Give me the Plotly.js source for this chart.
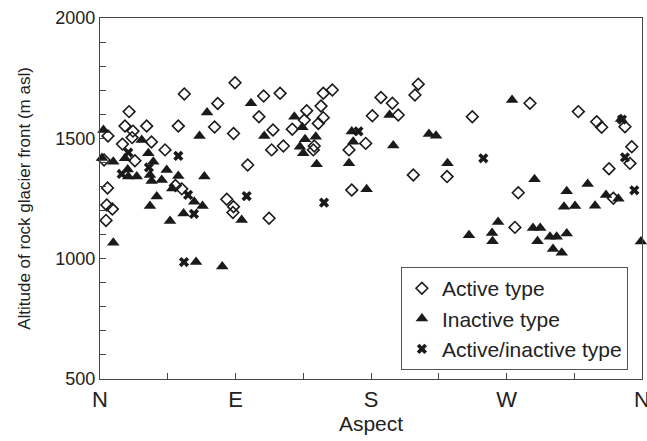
<!DOCTYPE html>
<html>
<head>
<meta charset="utf-8">
<script src="https://cdn.plot.ly/plotly-3.0.1.min.js"></script>
<style>html,body{margin:0;padding:0;background:#fff}#chart{width:647px;height:441px}</style>
</head>
<body>
<div id="chart"></div>
<script>
// Aspect in degrees (0 = N, 90 = E, 180 = S, 270 = W, 360 = N), altitude in m asl
var activeAspect = [2.7,4.5,8.2,4.0,5.0,5.3,14.9,16.6,19.3,21.9,21.3,23.2,31.0,34.2,43.2,50.1,54.3,52.0,56.0,76.1,78.2,89.7,84.2,88.7,88.3,88.7,105.6,108.7,114.9,114.0,98.1,112.3,119.6,121.8,127.7,135.7,137.3,145.0,146.8,148.3,148.3,154.3,142.3,141.7,165.4,176.5,167.2,180.9,186.6,194.2,198.1,209.2,211.4,208.1,230.5,247.3,285.6,277.8,275.6,317.7,329.9,333.2,348.7,353.2,352.0,338.1,341.0];
var activeAlt = [1410,1223,1206,1159,1294,1510,1476,1551,1611,1530,1503,1407,1551,1485,1452,1304,1290,1551,1684,1547,1645,1731,1247,1216,1192,1520,1590,1676,1535,1452,1389,1168,1687,1468,1538,1576,1615,1562,1634,1586,1687,1701,1468,1452,1452,1479,1285,1594,1670,1646,1597,1680,1725,1348,1341,1590,1646,1274,1130,1611,1569,1546,1548,1465,1396,1374,1251];

var inactiveAspect = [2.3,1.3,8.8,8.8,16.6,18.4,18.8,24.4,27.7,32.1,33.2,34.3,35.4,33.2,37.7,44.3,41.0,48.0,52.0,46.5,55.5,63.8,81.2,71.1,66.1,69.3,62.6,68.1,94.1,100.3,109.1,129.1,134.4,136.2,143.3,132.8,135.0,143.9,167.2,168.2,165.4,177.1,192.3,194.8,218.5,223.2,230.8,245.1,260.4,260.7,264.4,273.7,288.6,287.6,292.4,290.6,298.9,303.3,310.0,300.9,306.7,310.0,308.2,315.5,323.9,328.8,336.1,344.3,346.1,359.3];
var inactiveAlt = [1535,1418,1403,1066,1417,1371,1341,1341,1493,1438,1348,1323,1403,1219,1258,1368,1327,1292,1344,1157,1188,986,967,1607,1510,1341,1237,1219,1161,1646,1510,1590,1546,1496,1507,1465,1438,1392,1528,1486,1396,1288,1597,1470,1518,1511,1396,1097,1107,1072,1152,1659,1330,1127,1127,1072,1091,1091,1105,1040,1025,1280,1216,1219,1310,1220,1265,1249,1580,1071];

var mixedAspect = [18.8,14.4,32.5,52.0,58.5,62.4,55.8,97.4,148.8,171.7,254.6,346.7,348.7,354.9];
var mixedAlt = [1441,1352,1379,1427,1265,1186,986,1260,1233,1529,1417,1578,1421,1284];

var tickAngles = [0,90,180,270,360];
var tickNames = ['N','E','S','W','N'];
var yTicks = [500,1000,1500,2000];

var ink = '#1a1a1a';
var traces = [
  {x: activeAspect, y: activeAlt, type: 'scatter', mode: 'markers', name: 'Active type',
   cliponaxis: false,
   marker: {symbol: 'diamond-open', size: 9, color: ink, line: {width: 1.6, color: ink}}},
  {x: inactiveAspect, y: inactiveAlt, type: 'scatter', mode: 'markers', name: 'Inactive type',
   cliponaxis: false,
   marker: {symbol: 'triangle-up', size: 11, color: ink, line: {width: 0}}},
  {x: mixedAspect, y: mixedAlt, type: 'scatter', mode: 'markers', name: 'Active/inactive type',
   cliponaxis: false,
   marker: {symbol: 'x', size: 9, color: ink, line: {width: 0}}}
];

var axisColor = '#444';
var layout = {
  width: 647, height: 441,
  margin: {l: 100, r: 5, t: 18, b: 62},
  paper_bgcolor: '#fff', plot_bgcolor: '#fff',
  font: {family: 'Liberation Sans, Arial, sans-serif', color: '#222', size: 17},
  showlegend: true,
  legend: {x: 0.974, xanchor: 'right', y: 0.31, yanchor: 'top',
           bordercolor: '#555', borderwidth: 1, bgcolor: '#fff',
           font: {size: 21, color: '#222'}, itemwidth: 30},
  xaxis: {range: [0, 360], tickvals: tickAngles, ticktext: tickNames,
          ticks: 'inside', ticklen: 6, tickcolor: axisColor, tickwidth: 1,
          minor: {dtick: 45, tick0: 0, ticks: 'inside', ticklen: 6, tickcolor: axisColor, tickwidth: 1},
          showline: true, linecolor: axisColor, linewidth: 1.2, mirror: true,
          showgrid: false, zeroline: false, ticklabeloverflow: 'allow',
          tickfont: {size: 22},
          title: {text: 'Aspect', font: {size: 21}, standoff: 4}},
  yaxis: {range: [500, 2000], tickvals: yTicks,
          ticks: 'inside', ticklen: 6, tickcolor: axisColor, tickwidth: 1,
          minor: {dtick: 100, tick0: 500, ticks: 'inside', ticklen: 6, tickcolor: axisColor, tickwidth: 1},
          showline: true, linecolor: axisColor, linewidth: 1.2, mirror: true,
          showgrid: false, zeroline: false, ticklabeloverflow: 'allow',
          tickfont: {size: 18},
          title: {text: 'Altitude of rock glacier front (m asl)', font: {size: 17}, standoff: 20}}
};

Plotly.newPlot('chart', traces, layout, {displayModeBar: false, staticPlot: true});
</script>
</body>
</html>
